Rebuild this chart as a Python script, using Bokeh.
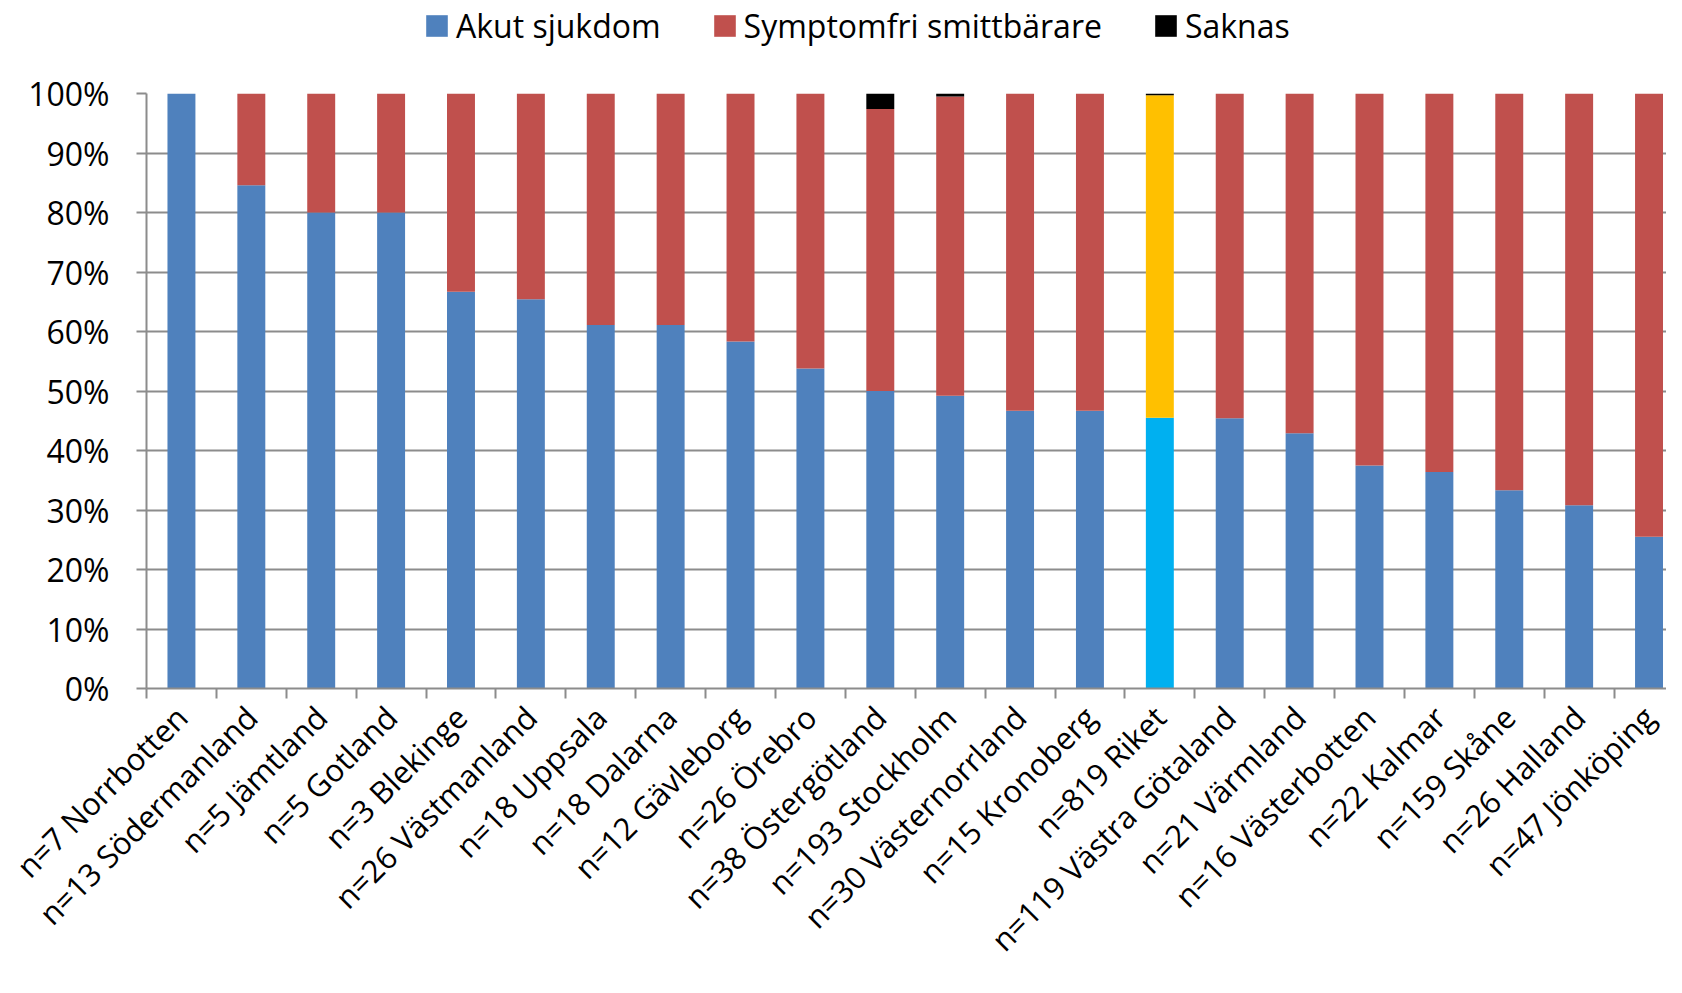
import math
from bokeh.plotting import figure
from bokeh.layouts import column
from bokeh.models import (ColumnDataSource, Range1d, FixedTicker, Legend, LegendItem,
                          NumeralTickFormatter)
from bokeh.embed import file_html
from bokeh.resources import INLINE

categories = ["n=7 Norrbotten", "n=13 Södermanland", "n=5 Jämtland", "n=5 Gotland",
              "n=3 Blekinge", "n=26 Västmanland", "n=18 Uppsala", "n=18 Dalarna",
              "n=12 Gävleborg", "n=26 Örebro", "n=38 Östergötland", "n=193 Stockholm",
              "n=30 Västernorrland", "n=15 Kronoberg", "n=819 Riket", "n=119 Västra Götaland",
              "n=21 Värmland", "n=16 Västerbotten", "n=22 Kalmar", "n=159 Skåne",
              "n=26 Halland", "n=47 Jönköping"]
akut = [100.0, 84.6, 80.0, 80.0, 66.7, 65.4, 61.1, 61.1, 58.3, 53.8, 50.0, 49.2,
        46.7, 46.7, 45.5, 45.4, 42.9, 37.5, 36.4, 33.3, 30.8, 25.5]
symptomfri = [0.0, 15.4, 20.0, 20.0, 33.3, 34.6, 38.9, 38.9, 41.7, 46.2, 47.4, 50.3,
              53.3, 53.3, 54.2, 54.6, 57.1, 62.5, 63.6, 66.7, 69.2, 74.5]
saknas = [0.0, 0.0, 0.0, 0.0, 0.0, 0.0, 0.0, 0.0, 0.0, 0.0, 2.6, 0.5,
          0.0, 0.0, 0.3, 0.0, 0.0, 0.0, 0.0, 0.0, 0.0, 0.0]
series_names = ["Akut sjukdom", "Symptomfri smittbärare", "Saknas"]
highlight = "n=819 Riket"

C_AKUT, C_SYMP, C_SAK = "#4F81BD", "#C0504D", "#000000"
C_AKUT_H, C_SYMP_H = "#00B0F0", "#FFC000"

n = len(categories)
xs = [i + 0.5 for i in range(n)]
a = [v / 100 for v in akut]
s = [v / 100 for v in symptomfri]
k = [v / 100 for v in saknas]
src = ColumnDataSource(dict(
    x=xs,
    a0=[0.0] * n, a1=a,
    s0=a, s1=[a[i] + s[i] for i in range(n)],
    k0=[a[i] + s[i] for i in range(n)], k1=[a[i] + s[i] + k[i] for i in range(n)],
    ca=[C_AKUT_H if c == highlight else C_AKUT for c in categories],
    cs=[C_SYMP_H if c == highlight else C_SYMP for c in categories],
))

FONT = "Open Sans"
GRID = "#8c8c8c"
W = 1666
TOP_H = 68
LEFT = 146

# ---------- legend strip ----------
lg = figure(width=W, height=TOP_H, output_backend="svg", toolbar_location=None,
            x_range=Range1d(0, 1), y_range=Range1d(0, 1),
            min_border_left=LEFT, min_border_right=0, min_border_top=0, min_border_bottom=0)
lg.axis.visible = False
lg.grid.visible = False
lg.outline_line_color = None
dummy = dict(x=[-10], y=[-10])
la = lg.rect(x="x", y="y", width=0.1, height=0.1, fill_color=C_AKUT, line_color=None, source=ColumnDataSource(dummy))
ls = lg.rect(x="x", y="y", width=0.1, height=0.1, fill_color=C_SYMP, line_color=None, source=ColumnDataSource(dummy))
lk = lg.rect(x="x", y="y", width=0.1, height=0.1, fill_color=C_SAK, line_color=None, source=ColumnDataSource(dummy))
legend = Legend(items=[
    LegendItem(label=series_names[0], renderers=[la]),
    LegendItem(label=series_names[1], renderers=[ls]),
    LegendItem(label=series_names[2], renderers=[lk]),
], orientation="horizontal", location=(277, 21))
legend.label_text_font = FONT
legend.label_text_font_size = "32px"
legend.label_text_color = "#000000"
legend.glyph_width = 27
legend.glyph_height = 27
legend.label_standoff = 6
legend.spacing = 50
legend.padding = 0
legend.margin = 0
legend.border_line_color = None
legend.background_fill_alpha = 0
lg.add_layout(legend, "center")

# ---------- main chart ----------
p = figure(width=W, height=977 - TOP_H, output_backend="svg", toolbar_location=None,
           x_range=Range1d(0, n - 0.25), y_range=Range1d(0, 1),
           min_border_left=LEFT, min_border_right=0, min_border_top=25, min_border_bottom=288)
p.outline_line_color = None

BW = 0.4
p.vbar(x="x", bottom="a0", top="a1", width=BW, fill_color="ca", line_color=None, source=src)
p.vbar(x="x", bottom="s0", top="s1", width=BW, fill_color="cs", line_color=None, source=src)
p.vbar(x="x", bottom="k0", top="k1", width=BW, fill_color=C_SAK, line_color=None, source=src)

p.xgrid.visible = False
p.ygrid.ticker = FixedTicker(ticks=[i / 10 for i in range(11)])
p.ygrid.grid_line_color = GRID
p.ygrid.grid_line_width = 2
p.ygrid.level = "underlay"

yax = p.yaxis[0]
yax.ticker = FixedTicker(ticks=[i / 10 for i in range(11)])
yax.formatter = NumeralTickFormatter(format="0%")
yax.axis_line_color = GRID
yax.axis_line_width = 2
yax.major_tick_line_color = GRID
yax.major_tick_line_width = 2
yax.major_tick_out = 10
yax.major_tick_in = 0
yax.minor_tick_line_color = None
yax.major_label_text_font = FONT
yax.major_label_text_font_size = "32px"
yax.major_label_text_color = "#000000"
yax.major_label_standoff = 27

xax = p.xaxis[0]
xax.ticker = FixedTicker(ticks=xs, minor_ticks=list(range(n + 1)))
xax.major_label_overrides = {xs[i]: categories[i] for i in range(n)}
xax.major_label_orientation = math.pi / 4
xax.major_tick_line_color = None
xax.major_tick_out = 0
xax.major_tick_in = 0
xax.minor_tick_line_color = GRID
xax.minor_tick_line_width = 2
xax.minor_tick_out = 10
xax.minor_tick_in = 0
xax.axis_line_color = GRID
xax.axis_line_width = 2
xax.major_label_text_font = FONT
xax.major_label_text_font_size = "31px"
xax.major_label_text_color = "#000000"
xax.major_label_standoff = 13

layout = column(lg, p, spacing=0)
open("out.html", "w").write(file_html(layout, INLINE))
